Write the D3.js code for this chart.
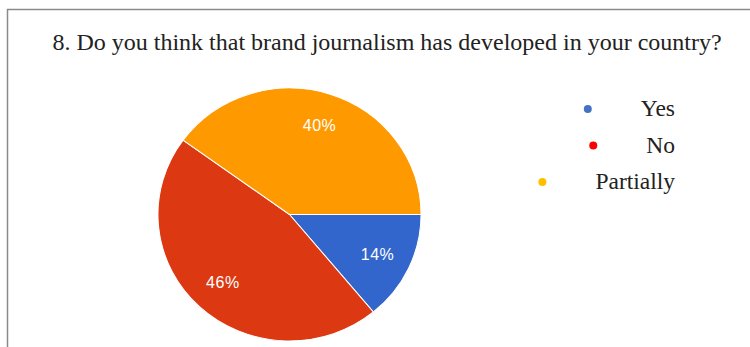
<!DOCTYPE html>
<html>
<head>
<meta charset="utf-8">
<script src="https://cdn.jsdelivr.net/npm/d3@7"></script>
<style>
  html, body { margin: 0; padding: 0; background: #fff; }
  svg { display: block; }
</style>
</head>
<body>
<svg id="chart" width="750" height="347"></svg>
<script>
// Survey answers and their shares (%)
const categories = ["Yes", "No", "Partially"];
const values = [14, 46, 40];
const sliceColors = ["#3366cc", "#dc3912", "#ff9900"];
const legendColors = ["#4472c4", "#ff0000", "#ffc000"];
const title = "8. Do you think that brand journalism has developed in your country?";

const svg = d3.select("#chart");
const W = 750, H = 347;

// Frame: left and top rules
svg.append("path")
  .attr("d", `M7.5,${H} V9.5 H${W}`)
  .attr("fill", "none")
  .attr("stroke", "#8a8a8a")
  .attr("stroke-width", 1.5);

// Title
svg.append("text")
  .attr("x", 387)
  .attr("y", 50)
  .attr("text-anchor", "middle")
  .attr("font-family", "'Liberation Serif', 'Times New Roman', serif")
  .attr("font-size", 24)
  .attr("fill", "#222")
  .text(title);

// Pie, starting at 3 o'clock and running clockwise
const cx = 289.5, cy = 214.5, r = 126.5, sx = 1.04;
const pie = d3.pie().sort(null).value(d => d)
  .startAngle(Math.PI / 2).endAngle(Math.PI / 2 + 2 * Math.PI);
const arcs = pie(values);
const arc = d3.arc().innerRadius(0).outerRadius(r);
const labelArc = d3.arc().innerRadius(r * 0.74).outerRadius(r * 0.74);

const g = svg.append("g")
  .attr("transform", `translate(${cx},${cy}) scale(${sx},1)`);
g.selectAll("path.slice")
  .data(arcs)
  .join("path")
  .attr("class", "slice")
  .attr("d", arc)
  .attr("fill", (d, i) => sliceColors[i])
  .attr("stroke", "#fff")
  .attr("stroke-width", 1);

// Percentage labels
svg.selectAll("text.pct")
  .data(arcs)
  .join("text")
  .attr("class", "pct")
  .attr("x", d => cx + labelArc.centroid(d)[0] * sx)
  .attr("y", d => cy + labelArc.centroid(d)[1])
  .attr("dy", "0.35em")
  .attr("text-anchor", "middle")
  .attr("font-family", "'Liberation Sans', Arial, sans-serif")
  .attr("font-size", 16)
  .attr("letter-spacing", 0.5)
  .attr("fill", "#fff")
  .text(d => d.data + "%");

// Legend: labels right-aligned, marker set off to the left of each label
const legendRight = 675;
const rowY = d3.scalePoint().domain(categories).range([116, 189]);
const legend = svg.append("g");
categories.forEach((c, i) => {
  const t = legend.append("text")
    .attr("x", legendRight)
    .attr("y", rowY(c))
    .attr("text-anchor", "end")
    .attr("font-family", "'Liberation Serif', 'Times New Roman', serif")
    .attr("font-size", 23.5)
    .attr("fill", "#222")
    .text(c);
  const w = t.node().getComputedTextLength();
  legend.append("circle")
    .attr("cx", legendRight - w - 53)
    .attr("cy", rowY(c) - 7)
    .attr("r", 4)
    .attr("fill", legendColors[i]);
});
</script>
</body>
</html>
